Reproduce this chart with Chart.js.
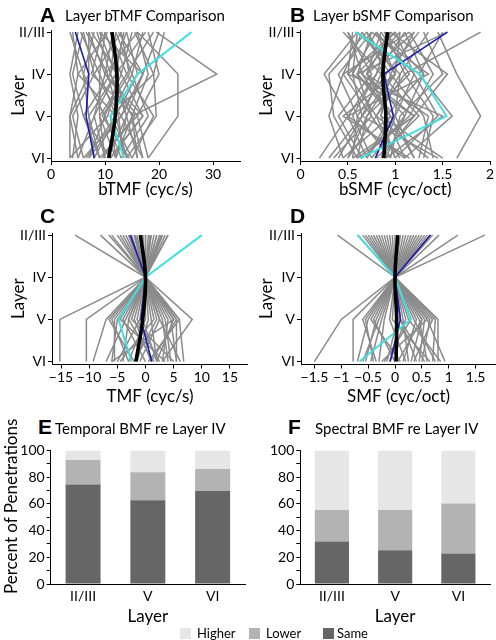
<!DOCTYPE html>
<html><head><meta charset="utf-8">
<script src="https://cdn.jsdelivr.net/npm/chart.js@4"></script>
<style>
html,body{margin:0;padding:0;background:#fff;}
#wrap{position:relative;width:496px;height:640px;overflow:hidden;background:#fff;}
canvas{position:absolute;}
.t{position:absolute;white-space:nowrap;font-family:Lato,sans-serif;font-size:15px;line-height:15px;color:#000;}
.L{position:absolute;white-space:nowrap;font-family:'Liberation Sans',Arial,sans-serif;font-weight:bold;font-size:21px;line-height:21px;color:#000;}
.lg{position:absolute;font-family:Lato,sans-serif;font-size:13px;line-height:13px;color:#000;white-space:nowrap;}
.bx{position:absolute;width:11px;height:11px;}
.yt{position:absolute;font-family:Lato,sans-serif;font-size:17px;line-height:17px;white-space:nowrap;transform-origin:0 0;transform:rotate(-90deg);}
</style></head><body>
<div id="wrap">
<canvas id="cA" width="248" height="205" style="left:0;top:0"></canvas>
<canvas id="cB" width="248" height="205" style="left:248px;top:0"></canvas>
<canvas id="cC" width="248" height="207" style="left:0;top:200px"></canvas>
<canvas id="cD" width="248" height="207" style="left:248px;top:200px"></canvas>
<canvas id="cE" width="248" height="190" style="left:0;top:440px"></canvas>
<canvas id="cF" width="248" height="190" style="left:248px;top:440px"></canvas>

<div class="L" style="left:40px;top:4px">A</div><div class="t" style="left:65px;top:8.4px">Layer bTMF Comparison</div>
<div class="L" style="left:290px;top:4px">B</div><div class="t" style="left:313px;top:8.4px">Layer bSMF Comparison</div>
<div class="L" style="left:40px;top:205px">C</div>
<div class="L" style="left:290px;top:205px">D</div>
<div class="L" style="left:38px;top:416px">E</div><div class="t" style="left:55px;top:420.7px">Temporal BMF re Layer IV</div>
<div class="L" style="left:288px;top:416px">F</div><div class="t" style="left:315px;top:420.7px">Spectral BMF re Layer IV</div>
<div class="yt" style="left:2px;top:594px">Percent of Penetrations</div>

<div class="bx" style="left:180px;top:628px;background:#e6e6e6"></div><div class="lg" style="left:197px;top:627px">Higher</div>
<div class="bx" style="left:249px;top:628px;background:#b3b3b3"></div><div class="lg" style="left:266px;top:627px">Lower</div>
<div class="bx" style="left:323px;top:628px;background:#666666"></div><div class="lg" style="left:337px;top:627px">Same</div>
</div>
<script>
// ---------- data ----------
const LAYERS = ['II/III', 'IV', 'V', 'VI'];
const LAYER_POS = [3, 2, 1, 0];

// Panel A: bTMF (cyc/s) per penetration, values at [II/III, IV, V, VI]
const bTMF_pen = [
 [4, 5, 3.5, 3.5], [5, 3.5, 5, 4], [6, 8, 4, 6], [7, 10, 8, 5], [8, 6, 10, 7],
 [9, 12, 7, 9], [10, 9, 12, 8], [11, 14, 9, 10], [12, 11, 14, 12], [13, 8, 13, 6],
 [14, 16, 12, 14], [15, 13, 17, 11], [16, 18, 15, 16], [17, 15, 18, 13], [18, 20, 16, 18],
 [19, 14, 19, 15], [20, 17, 13, 17], [21, 19, 11, 12], [19.5, 30.7, 15, 12], [16, 23.5, 23.5, 18],
 [6, 4, 6, 9], [7, 7, 3.5, 5], [8.5, 11, 6, 11], [10, 13, 10, 13], [11.5, 10, 16, 9],
 [12, 15, 11, 15], [13.5, 12, 8, 10], [9, 17, 13, 7], [5.5, 9, 9, 12], [14, 11, 15, 17],
 [15.5, 19, 19.5, 14], [3.5, 6, 7, 8], [10.5, 5, 12, 6.5], [16, 10, 17, 11], [12.5, 17, 14, 16],
 [7.5, 12.5, 10.5, 3.5], [9.5, 7.5, 15.5, 9.5], [13, 14.5, 9.5, 14.5], [17.5, 12, 14, 10.5], [6.5, 10.5, 12.5, 13.5]
];
const bTMF_blue = [4.5, 7, 6.5, 8];
const bTMF_cyan = [26, 16, 11, 13.5];
const bTMF_mean = [11.3, 12.2, 11.9, 10.7];

// Panel B: bSMF (cyc/oct)
const bSMF_pen = [
 [0.6, 0.25, 0.5, 0.2], [0.65, 0.45, 0.3, 0.45], [0.7, 0.9, 0.6, 0.55], [0.75, 0.6, 0.95, 0.7],
 [0.8, 1.0, 0.7, 0.6], [0.85, 0.7, 1.1, 0.9], [0.9, 1.1, 0.8, 1.0], [0.95, 0.8, 0.55, 0.75],
 [1.0, 1.2, 1.0, 1.2], [1.05, 0.65, 1.2, 0.85], [1.1, 1.3, 0.9, 1.1], [1.2, 0.95, 1.3, 1.4],
 [1.3, 1.5, 1.05, 0.95], [1.45, 1.65, 1.9, 1.65], [1.9, 1.1, 1.4, 1.3], [0.5, 0.75, 0.4, 0.65],
 [0.55, 0.5, 0.8, 0.5], [0.7, 1.0, 0.45, 1.15], [0.8, 0.55, 0.65, 0.4], [0.9, 0.85, 1.25, 0.8],
 [1.0, 0.6, 0.75, 1.05], [1.15, 1.4, 1.15, 0.65], [1.25, 0.9, 0.85, 1.5], [0.6, 1.05, 1.0, 0.85],
 [0.75, 0.4, 0.6, 0.95], [0.85, 1.15, 0.7, 0.5], [0.95, 0.7, 1.35, 1.25], [1.1, 0.8, 0.5, 0.7],
 [0.65, 0.95, 0.85, 1.0], [1.5, 1.25, 1.6, 1.1], [0.5, 0.65, 0.95, 0.45], [1.35, 1.05, 0.8, 1.35],
 [0.7, 0.3, 0.35, 0.6], [0.88, 1.3, 1.1, 0.75], [1.0, 0.5, 1.5, 0.9], [0.45, 0.85, 0.65, 0.3],
 [1.2, 0.7, 0.95, 1.2], [0.8, 1.2, 1.45, 1.0], [0.6, 0.55, 1.2, 0.55], [1.05, 1.0, 0.65, 1.45],
 [1.55, 0.6, 1.0, 0.7], [0.75, 1.35, 0.5, 1.1], [1.15, 0.45, 0.75, 0.35], [0.95, 1.55, 1.2, 0.6]
];
const bSMF_blue = [1.55, 0.88, 0.98, 0.79];
const bSMF_cyan = [0.58, 1.26, 1.54, 0.63];
const bSMF_mean = [0.92, 0.87, 0.9, 0.88];

// Panel C: TMF change re layer IV (cyc/s)
const TMF_pen = [
 [-12.5, 0, -15.2, -15.2], [-8, 0, -10.5, -10.5], [-6, 0, 8.3, 3], [-4, 0, -7, -9.3],
 [-3, 0, -5, -6], [-2, 0, -3, -4], [-1, 0, -2, 1], [0, 0, 2, -2], [1, 0, 4, 3],
 [2, 0, 5.5, 5.5], [3, 0, 6, 6.8], [4, 0, 5, 2], [-5, 0, -6, -3], [-3.5, 0, -4, 0],
 [-2.5, 0, -1, -5], [-1.5, 0, 1, 2], [-0.5, 0, 3, 4], [0.5, 0, -3.5, -7], [1.5, 0, 5.5, 1],
 [2.5, 0, -2.5, 5], [3.5, 0, 2.5, -1], [-4.5, 0, -5.5, -5.5], [-1, 0, 0, -3], [0.8, 0, -1.5, 2.5],
 [2, 0, 1.5, -4.5], [-2, 0, 4.5, 5.5], [3, 0, -4.5, 3.5], [-3, 0, 0.5, -1.5], [1, 0, -6.5, -2],
 [-0.5, 0, 6, 0.5], [4, 0, 3.5, 4.5], [-6.5, 0, -3, 1.5], [0, 0, 5, -6], [2.8, 0, -0.5, 2],
 [-1.8, 0, 2.5, 6.2]
];
const TMF_blue = [-2.7, 0, -0.8, 1.1];
const TMF_cyan = [10, 0, -4.8, -2.5];
const TMF_mean = [-0.9, 0, -0.5, -1.7];

// Panel D: SMF change re layer IV (cyc/oct)
const SMF_pen = [
 [-1.07, 0, -1.0, -1.5], [1.67, 0, 0.5, 0.3], [1.17, 0, 0.8, 0.8], [0.82, 0, 0.6, 0.93],
 [-0.7, 0, -0.78, -0.78], [-0.5, 0, -0.55, -0.4], [-0.4, 0, -0.3, -0.6], [-0.3, 0, -0.45, 0.1],
 [-0.2, 0, -0.2, -0.3], [-0.1, 0, 0.1, 0.4], [0, 0, 0.3, -0.2], [0.1, 0, 0.45, 0.6],
 [0.2, 0, -0.1, 0.2], [0.3, 0, 0.65, 0.5], [0.4, 0, 0.2, -0.1], [0.5, 0, 0.35, 0.75],
 [0.6, 0, 0.7, 0.35], [-0.6, 0, -0.35, -0.55], [-0.35, 0, 0.15, 0.25], [-0.15, 0, -0.6, -0.35],
 [0.05, 0, 0.5, 0.05], [0.25, 0, -0.25, -0.45], [0.45, 0, 0.1, 0.55], [0.7, 0, 0.4, 0.15],
 [-0.45, 0, 0.05, -0.15], [-0.25, 0, -0.05, 0.65], [0.15, 0, 0.6, -0.25], [0.35, 0, -0.4, 0.0],
 [-0.05, 0, 0.25, 0.85], [0.55, 0, 0.55, 0.45], [-0.55, 0, -0.5, -0.7], [0.65, 0, 0.75, 0.7]
];
const SMF_blue = [0.66, 0, 0.1, -0.09];
const SMF_cyan = [-0.69, 0, 0.29, -0.66];
const SMF_mean = [0.05, 0, 0.03, 0.02];

// Tick labels
const ticksA = [0, 10, 20, 30];
const ticksB = [0, 0.5, 1, 1.5, 2];
const ticksC = [-15, -10, -5, 0, 5, 10, 15];
const ticksD = [-1.5, -1, -0.5, 0, 0.5, 1, 1.5];
const ticksPct = [0, 10, 20, 30, 40, 50, 60, 70, 80, 90, 100];

// Panels E/F: percent of penetrations
const BAR_CATS = ['II/III', 'V', 'VI'];
const temporalSame = [74.5, 62.7, 69.6];
const temporalLower = [18.3, 20.9, 16.4];
const temporalHigher = [7.2, 16.4, 14.0];
const spectralSame = [31.8, 25.3, 22.9];
const spectralLower = [23.6, 30.1, 37.3];
const spectralHigher = [44.6, 44.6, 39.8];

// ---------- rendering ----------
const FONT = "Lato, sans-serif";
Chart.defaults.font.family = FONT;
Chart.defaults.color = '#000';
Chart.defaults.animation = false;

const pts = vals => vals.map((v, i) => ({x: v, y: LAYER_POS[i]}));
const fmt = v => (v < 0 ? '\u2212' + Math.abs(v) : String(v));

function lineChart(id, pen, blue, cyan, mean, xmin, xmax, xticks, xtitle, pad, yW, xH) {
  const ds = [];
  ds.push({data: pts(mean), borderColor: '#000', borderWidth: 3.6, tension: 0.4, pointRadius: 0});
  ds.push({data: pts(cyan), borderColor: '#40e0e0', borderWidth: 2, tension: 0, pointRadius: 0});
  ds.push({data: pts(blue), borderColor: '#1c1cb0', borderWidth: 1.6, tension: 0, pointRadius: 0});
  pen.forEach(p => ds.push({data: pts(p), borderColor: '#8a8a8a', borderWidth: 1.5, tension: 0, pointRadius: 0}));
  new Chart(document.getElementById(id), {
    type: 'line',
    data: {datasets: ds},
    options: {
      responsive: false, animation: false,
      layout: {padding: pad},
      plugins: {legend: {display: false}, tooltip: {enabled: false}},
      scales: {
        x: {
          type: 'linear', min: xmin, max: xmax,
          afterBuildTicks: s => { s.ticks = xticks.map(v => ({value: v})); },
          afterFit: s => { s.height = xH; },
          ticks: {callback: v => fmt(v), font: {size: 14}, padding: 1, maxRotation: 0, autoSkip: false},
          grid: {drawOnChartArea: false, drawTicks: true, tickLength: 4, color: '#000'},
          border: {display: true, color: '#000', width: 1},
          title: {display: true, text: xtitle, font: {size: 17}, padding: {top: 0, bottom: 0}}
        },
        y: {
          type: 'linear', min: -0.07, max: 3.05,
          afterBuildTicks: s => { s.ticks = [0, 1, 2, 3].map(v => ({value: v})); },
          afterFit: s => { s.width = yW; },
          ticks: {callback: v => LAYERS[3 - v], font: {size: 14}, padding: 2, autoSkip: false},
          grid: {drawOnChartArea: false, drawTicks: true, tickLength: 4, color: '#000'},
          border: {display: true, color: '#000', width: 1},
          title: {display: true, text: 'Layer', font: {size: 17}, padding: {top: 8, bottom: 0}}
        }
      }
    }
  });
}

function barChart(id, same, lower, higher, pad, yW, xH) {
  new Chart(document.getElementById(id), {
    type: 'bar',
    data: {
      labels: BAR_CATS,
      datasets: [
        {label: 'Same', data: same, backgroundColor: '#666666'},
        {label: 'Lower', data: lower, backgroundColor: '#b3b3b3'},
        {label: 'Higher', data: higher, backgroundColor: '#e6e6e6'}
      ]
    },
    options: {
      responsive: false, animation: false,
      layout: {padding: pad},
      categoryPercentage: 1, barPercentage: 0.54,
      plugins: {legend: {display: false}, tooltip: {enabled: false}},
      scales: {
        x: {
          stacked: true,
          afterFit: s => { s.height = xH; },
          ticks: {font: {size: 14}, padding: 4},
          grid: {display: false, drawTicks: false, tickLength: 0},
          border: {display: true, color: '#000', width: 1},
          title: {display: true, text: 'Layer', font: {size: 17}, padding: {top: 0, bottom: 0}}
        },
        y: {
          stacked: true, min: 0, max: 100,
          afterBuildTicks: s => { s.ticks = ticksPct.map(v => ({value: v})); },
          afterFit: s => { s.width = yW; },
          ticks: {callback: v => (v % 20 === 0 ? String(v) : ''), font: {size: 14}, padding: 2, autoSkip: false},
          grid: {drawOnChartArea: false, drawTicks: true, tickLength: 4, color: '#000'},
          border: {display: true, color: '#000', width: 1},
          title: {display: false}
        }
      }
    }
  });
}

lineChart('cA', bTMF_pen, bTMF_blue, bTMF_cyan, bTMF_mean, 0, 35, ticksA, 'bTMF (cyc/s)',
  {top: 30, right: 8, bottom: 5, left: 0}, 51, 39);
lineChart('cB', bSMF_pen, bSMF_blue, bSMF_cyan, bSMF_mean, 0, 2, ticksB, 'bSMF (cyc/oct)',
  {top: 30, right: 6, bottom: 5, left: 0}, 52.5, 39);
lineChart('cC', TMF_pen, TMF_blue, TMF_cyan, TMF_mean, -16.6, 18.2, ticksC, 'TMF (cyc/s)',
  {top: 33, right: 0, bottom: 0, left: 0}, 52, 42.5);
lineChart('cD', SMF_pen, SMF_blue, SMF_cyan, SMF_mean, -1.75, 1.88, ticksD, 'SMF (cyc/oct)',
  {top: 33, right: 0, bottom: 0, left: 0}, 53, 42.5);
barChart('cE', temporalSame, temporalLower, temporalHigher,
  {top: 5.7, right: 3, bottom: 3.4, left: 0}, 50.7, 42.6);
barChart('cF', spectralSame, spectralLower, spectralHigher,
  {top: 5.7, right: 6, bottom: 3.4, left: 0}, 52.3, 42.6);
</script>
</body></html>
